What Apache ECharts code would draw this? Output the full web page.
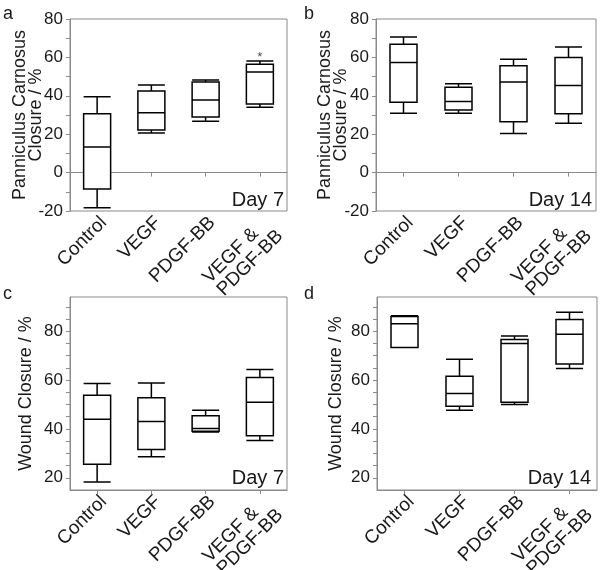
<!DOCTYPE html>
<html>
<head>
<meta charset="utf-8">
<script src="https://cdn.jsdelivr.net/npm/echarts@6/dist/echarts.min.js"></script>
<style>
html,body{margin:0;padding:0;background:#fff;}
#chart{width:602px;height:570px;}
</style>
</head>
<body>
<div id="chart"></div>
<script>
// Categories (x axis)
const categories = ['Control', 'VEGF', 'PDGF-BB', 'VEGF &\nPDGF-BB'];

// Box data: [min, Q1, median, Q3, max]
const pcDay7 = [
  [-18.3, -8.5, 13.3, 30.7, 39.5],
  [20.6, 22.2, 31.2, 42.5, 45.6],
  [26.7, 29.0, 37.8, 47.2, 48.2],
  [34.0, 35.7, 52.4, 56.4, 58.1]
];
const pcDay14 = [
  [30.9, 36.6, 57.4, 66.8, 70.6],
  [30.9, 32.6, 37.0, 44.4, 46.3],
  [20.3, 26.5, 47.2, 55.7, 59.0],
  [25.7, 30.7, 45.3, 59.9, 65.4]
];
const woundDay7 = [
  [18.3, 25.5, 44.0, 53.8, 58.6],
  [28.6, 31.6, 43.0, 52.8, 58.8],
  [38.7, 39.0, 40.2, 45.4, 47.6],
  [35.3, 37.2, 50.9, 61.0, 64.3]
];
const woundDay14 = [
  [73.3, 73.3, 83.1, 86.0, 86.3],
  [47.6, 49.3, 54.5, 61.6, 68.5],
  [50.0, 50.9, 75.0, 76.6, 78.0],
  [64.7, 66.6, 78.8, 84.8, 87.8]
];

// Significance marker (category index, y value)
const sigMarkA = [[3, 60]];

// Axis tick labels / tick positions
const pcTickLabels = [-20, 0, 20, 40, 60, 80];
const pcTicks = [-20, -10, 0, 10, 20, 30, 40, 50, 60, 70, 80];
const woundTickLabels = [20, 40, 60, 80];
const woundTicks = [20, 25, 30, 35, 40, 45, 50, 55, 60, 65, 70, 75, 80, 85, 90];

const pcRange = [-20, 80];
const woundRange = [15, 94];

const FONT = 'Liberation Sans, Arial, sans-serif';
const TXT = '#1a1a1a';
const AX = '#8a8a8a';

const grids = [
  {left: 70, top: 19, width: 217, height: 192},
  {left: 376, top: 19, width: 220, height: 192},
  {left: 70, top: 297, width: 217, height: 193},
  {left: 377, top: 297, width: 220, height: 193}
].map(g => Object.assign({show: true, borderColor: AX, borderWidth: 1, backgroundColor: 'transparent', containLabel: false, outerBoundsMode: 'none'}, g));

function xAxis(i) {
  return {
    type: 'category', gridIndex: i, data: categories, boundaryGap: true,
    axisLine: {show: true, lineStyle: {color: AX, width: 1}},
    axisTick: {show: true, alignWithLabel: true, length: 4, inside: false, lineStyle: {color: AX}},
    axisLabel: {
      interval: 0, rotate: 45, margin: 2, color: TXT, fontFamily: FONT, fontSize: 19,
      verticalAlign: 'top', padding: [0, 0, 0, 0], lineHeight: 19,
      hideOverlap: false,
      formatter: v => v.indexOf('\n') >= 0 ? v.replace('\n', '   \n') : v
    },
    splitLine: {show: false}
  };
}
function yAxis(i, range, labels, ticks, name, gap) {
  return {
    type: 'value', gridIndex: i, min: range[0], max: range[1],
    name: name, nameLocation: 'middle', nameGap: gap, nameRotate: 90, nameMoveOverlap: false,
    nameTextStyle: {color: TXT, fontFamily: FONT, fontSize: 18, lineHeight: 16},
    axisLine: {show: true, lineStyle: {color: AX, width: 1}},
    axisTick: {show: true, length: 4, inside: false, customValues: ticks, lineStyle: {color: AX}},
    axisLabel: {customValues: labels, color: TXT, fontFamily: FONT, fontSize: 17, margin: 7},
    splitLine: {show: false}
  };
}
function box(i, data) {
  return {
    type: 'boxplot', xAxisIndex: i, yAxisIndex: i, data: data,
    boxWidth: [27, 27],
    itemStyle: {color: '#fff', borderColor: '#000', borderWidth: 1.5},
    emphasis: {disabled: true}, silent: true
  };
}

const pcName = 'Panniculus Carnosus\nClosure / %';
const wName = 'Wound Closure / %';

const option = {
  animation: false,
  backgroundColor: '#fff',
  textStyle: {fontFamily: FONT},
  title: [
    {text: 'a', left: 3, top: 5, padding: 0, textStyle: {fontSize: 18, fontWeight: 'normal', color: TXT, fontFamily: FONT}},
    {text: 'b', left: 304, top: 5, padding: 0, textStyle: {fontSize: 18, fontWeight: 'normal', color: TXT, fontFamily: FONT}},
    {text: 'c', left: 3, top: 285, padding: 0, textStyle: {fontSize: 18, fontWeight: 'normal', color: TXT, fontFamily: FONT}},
    {text: 'd', left: 304, top: 285, padding: 0, textStyle: {fontSize: 18, fontWeight: 'normal', color: TXT, fontFamily: FONT}},
    {text: 'Day 7', right: 602 - 284, top: 190, padding: 0, textStyle: {fontSize: 20, fontWeight: 'normal', color: TXT, fontFamily: FONT}},
    {text: 'Day 14', right: 602 - 592, top: 190, padding: 0, textStyle: {fontSize: 20, fontWeight: 'normal', color: TXT, fontFamily: FONT}},
    {text: 'Day 7', right: 602 - 284, top: 468, padding: 0, textStyle: {fontSize: 20, fontWeight: 'normal', color: TXT, fontFamily: FONT}},
    {text: 'Day 14', right: 602 - 591, top: 468, padding: 0, textStyle: {fontSize: 20, fontWeight: 'normal', color: TXT, fontFamily: FONT}}
  ],
  grid: grids,
  xAxis: [xAxis(0), xAxis(1), xAxis(2), xAxis(3)],
  yAxis: [
    yAxis(0, pcRange, pcTickLabels, pcTicks, pcName, 26),
    yAxis(1, pcRange, pcTickLabels, pcTicks, pcName, 27),
    yAxis(2, woundRange, woundTickLabels, woundTicks, wName, 36),
    yAxis(3, woundRange, woundTickLabels, woundTicks, wName, 33)
  ],
  series: [
    box(0, pcDay7), box(1, pcDay14), box(2, woundDay7), box(3, woundDay14),
    {
      type: 'scatter', xAxisIndex: 0, yAxisIndex: 0, data: sigMarkA,
      symbolSize: 0, silent: true,
      label: {show: true, formatter: '*', position: 'inside', color: TXT, fontSize: 13, fontFamily: FONT}
    }
  ]
};

const chart = echarts.init(document.getElementById('chart'), null, {renderer: 'canvas'});
chart.setOption(option);
</script>
</body>
</html>
